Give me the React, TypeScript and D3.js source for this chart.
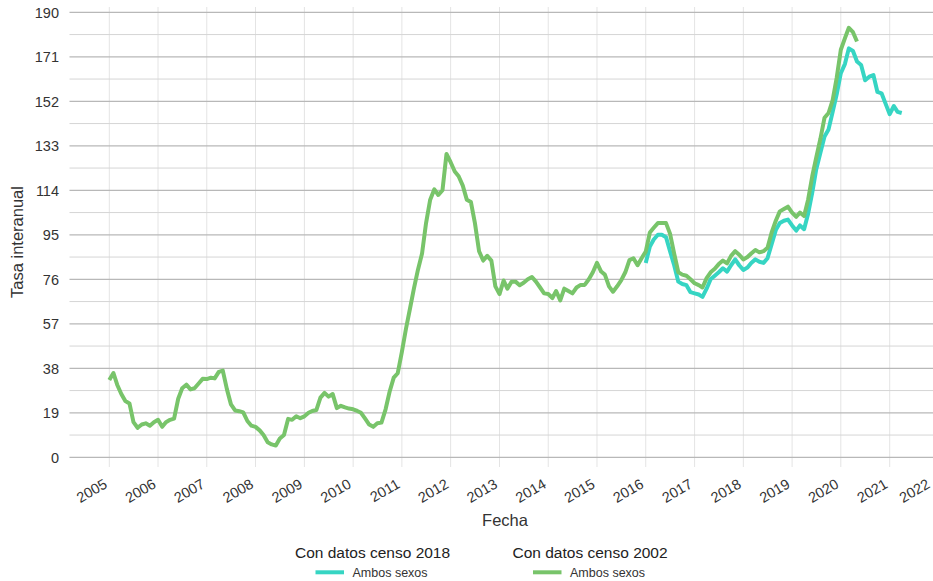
import React from "react";
import * as d3 from "d3";

// Tasa interanual, monthly values
const yearTicks = d3.range(2005, 2023);
const yTicks = [0, 19, 38, 57, 76, 95, 114, 133, 152, 171, 190];

// Con datos censo 2002 (Jan 2005 - May 2020)
const censo2002 = [
	33, 36, 31, 27, 24, 23, 15, 12.6, 14, 14.5, 13.5, 15,
	16, 13, 15, 16, 16.5, 25, 29.5, 31, 29, 29.5, 31.5, 33.5,
	33.4, 34, 33.7, 36.5, 37, 29, 22.6, 20, 19.7, 19.2, 15.5, 13.5,
	13, 11.5, 9.5, 6.4, 5.5, 5, 8, 9.5, 16.4, 16, 17.5, 16.7,
	17.5, 19, 19.8, 20.2, 25.5, 27.5, 25.9, 27, 21, 22, 21.3, 20.8,
	20.5, 19.8, 19, 16.5, 14, 13, 14.5, 14.8, 20.5, 28, 34, 35.9,
	45, 55, 63, 72, 80, 87, 100, 110, 114.4, 112, 114, 129.5,
	126, 122, 120, 116, 110, 109, 100, 88, 84, 86, 84, 73,
	69.7, 75.5, 72, 75, 75, 73.5, 74.5, 76, 77, 75, 72.5, 70,
	69.7, 68, 71, 67, 72, 71, 70, 72.5, 73.6, 73.6, 76, 79,
	83, 79.3, 78, 73, 70.7, 73, 75.5, 79, 84.2, 85, 82, 85,
	87.8, 96, 98, 100, 100, 100, 95.5, 87, 79, 78, 77.5, 76,
	74.3, 73.5, 72.5, 76.5, 79, 80.5, 82.5, 84, 82.8, 86, 88, 86.5,
	84.5, 85.5, 87, 88.5, 87.5, 88, 89.5, 96, 101, 105, 106, 107,
	104.5, 102.7, 104.5, 103, 110, 120, 128, 136, 145, 147, 152.5, 162,
	174, 179, 183.4, 181.5, 177.5,
];

// Con datos censo 2018 (Jan 2016 - Apr 2021)
const censo2018 = [
	83, 90, 93, 95, 95, 94, 88, 82, 75, 74, 73.5, 70.5,
	70, 69.5, 68.5, 72, 76, 77.5, 79, 80.7, 79.3, 82, 84.5, 82,
	80, 81, 83, 84.5, 83.5, 83, 85, 91, 97, 100, 101, 101.5,
	99, 96.8, 99, 97.4, 104, 113, 123, 130, 137, 140, 147.5, 155,
	164, 168, 174.6, 173.5, 169, 167.5, 161, 162.5, 163.2, 156, 155.4, 151,
	146.5, 150, 147.5, 147,
];

const series = [
	{ name: "Con datos censo 2018", start: new Date(2016, 0, 1), values: censo2018, color: "#36d5c3" },
	{ name: "Con datos censo 2002", start: new Date(2005, 0, 1), values: censo2002, color: "#78c46a" },
];

const font = "'Liberation Sans', Arial, sans-serif";

export default function App() {
	const width = 933;
	const height = 581;
	const panelLeft = 69.5;
	const panelTop = 7;
	const panelBottom = 467;

	const x = d3
		.scaleTime()
		.domain([new Date(2005, 0, 1), new Date(2021, 0, 1)])
		.range([109.3, 889.7]);

	const y = d3.scaleLinear().domain([0, 190]).range([457.3, 12.3]);

	const line = d3
		.line<{ date: Date; value: number }>()
		.x((d) => x(d.date))
		.y((d) => y(d.value));

	const minorTicks = yTicks.slice(0, -1).map((t) => t + 9.5);

	return (
		<svg
			width={width}
			height={height}
			style={{ position: "absolute", left: 0, top: 0, background: "#fff" }}
			fontFamily={font}
		>
			{/* grid */}
			<g>
				{yearTicks.map((yr) => (
					<line
						key={yr}
						x1={x(new Date(yr, 0, 1))}
						x2={x(new Date(yr, 0, 1))}
						y1={panelTop}
						y2={panelBottom}
						stroke="#e4e4e4"
						strokeWidth={1}
					/>
				))}
				{minorTicks.map((t) => (
					<line key={t} x1={panelLeft} x2={width} y1={y(t)} y2={y(t)} stroke="#d6d6d6" strokeWidth={1} />
				))}
				{yTicks.map((t) => (
					<line key={t} x1={panelLeft} x2={width} y1={y(t)} y2={y(t)} stroke="#b8b8b8" strokeWidth={1.2} />
				))}
			</g>

			{/* y axis labels */}
			<g fill="#333" fontSize={14.5} textAnchor="end">
				{yTicks.map((t) => (
					<text key={t} x={59} y={y(t)} dy="0.36em">
						{t}
					</text>
				))}
			</g>

			{/* x axis labels, end of baseline just left of the tick */}
			<g fill="#333" fontSize={14.5} textAnchor="end">
				{yearTicks.map((yr) => {
					const tx = Math.min(x(new Date(yr, 0, 1)) - 1, width - 2);
					const ty = 487;
					return (
						<text key={yr} transform={`translate(${tx},${ty}) rotate(-30)`}>
							{yr}
						</text>
					);
				})}
			</g>

			{/* lines */}
			{series.map((s) => {
				const pts = s.values.map((v, i) => ({ date: d3.timeMonth.offset(s.start, i), value: v }));
				return (
					<path
						key={s.name}
						d={line(pts) || undefined}
						fill="none"
						stroke={s.color}
						strokeWidth={4}
						strokeLinejoin="round"
						strokeLinecap="butt"
					/>
				);
			})}

			{/* axis titles */}
			<text x={505} y={526} textAnchor="middle" fontSize={16.5} fill="#333">
				Fecha
			</text>
			<text
				transform={`translate(23,${(panelTop + panelBottom) / 2 + 5}) rotate(-90)`}
				textAnchor="middle"
				fontSize={16.5}
				fill="#333"
			>
				Tasa interanual
			</text>

			{/* legend */}
			{series.map((s, i) => {
				const lx = i === 0 ? 295 : 512.5;
				return (
					<g key={s.name} transform={`translate(${lx},0)`}>
						<text x={0} y={558} fontSize={15.5} fill="#222">
							{s.name}
						</text>
						<line x1={20.5} x2={49} y1={572.3} y2={572.3} stroke={s.color} strokeWidth={4} />
						<text x={57.5} y={577} fontSize={12.5} fill="#333">
							Ambos sexos
						</text>
					</g>
				);
			})}
		</svg>
	);
}
